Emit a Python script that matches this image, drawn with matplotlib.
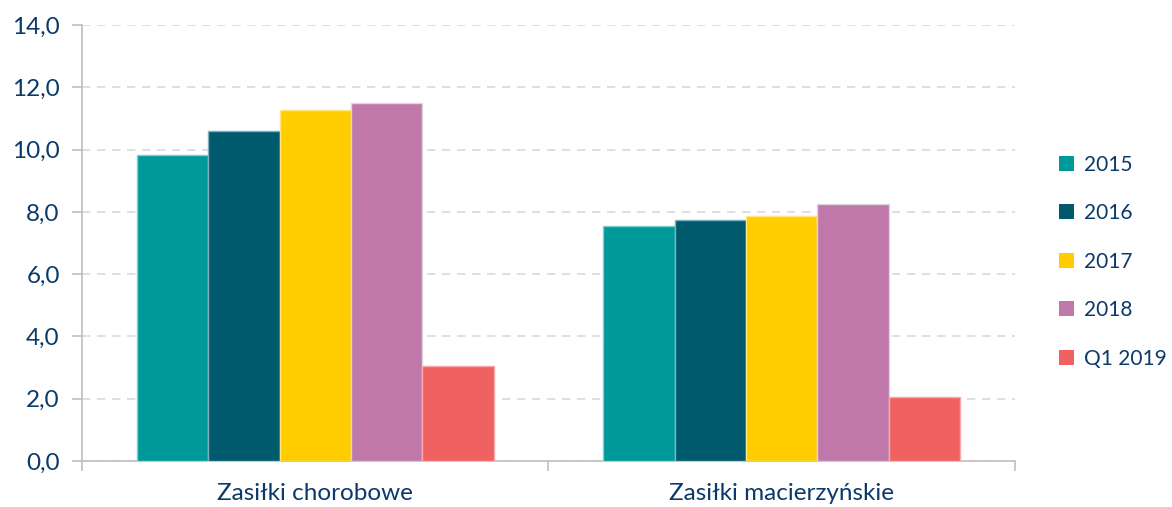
import matplotlib
matplotlib.use("Agg")
import matplotlib.pyplot as plt
import numpy as np
from matplotlib.ticker import FuncFormatter, FixedLocator

plt.rcParams['font.family'] = ['Lato', 'DejaVu Sans']

categories = ["Zasiłki chorobowe", "Zasiłki macierzyńskie"]
series = ["2015", "2016", "2017", "2018", "Q1 2019"]
values = {
    "2015": [9.81, 7.56],
    "2016": [10.61, 7.74],
    "2017": [11.28, 7.86],
    "2018": [11.50, 8.25],
    "Q1 2019": [3.04, 2.06],
}
colors = ["#009999", "#005a6e", "#ffcc00", "#c077aa", "#f06262"]
edges = ["#7fcfcf", "#7fb0bb", "#ffe680", "#d9d9d9", "#f8a8a8"]
yticks = [0, 2, 4, 6, 8, 10, 12, 14]

text_color = "#0b3a6a"

fig = plt.figure(figsize=(11.72, 5.07), dpi=100)
ax = fig.add_axes([0.07, 0.0907, 0.796, 0.86])

x = np.arange(len(categories))
w = 0.153
n = len(series)
for i, s in enumerate(series):
    offs = (i - (n - 1) / 2) * w
    ax.bar(x + offs, values[s], width=w, color=colors[i], edgecolor=edges[i],
           linewidth=1, label=s, zorder=3)

ax.set_xlim(-0.5, 1.5)
ax.set_ylim(0, 14)
ax.set_yticks(yticks)
ax.yaxis.set_major_formatter(FuncFormatter(lambda v, p: f"{v:.1f}".replace(".", ",")))
ax.grid(axis='y', color='#d9d9d9', linestyle=(0, (5, 4)), linewidth=1.2, zorder=0)

ax.xaxis.set_major_locator(FixedLocator([-0.5, 0.5, 1.5]))
ax.xaxis.set_major_formatter(FuncFormatter(lambda v, p: ""))
ax.xaxis.set_minor_locator(FixedLocator(list(x)))
ax.set_xticklabels(categories, minor=True)
ax.tick_params(axis='x', which='minor', length=0, pad=16, labelsize=17.5, labelcolor=text_color)
ax.tick_params(axis='x', which='major', length=7, color='#bfbfbf', width=1.2)
ax.tick_params(axis='y', length=7, color='#bfbfbf', width=1.2, labelsize=17.5,
               labelcolor=text_color, pad=9)

for sp in ['top', 'right']:
    ax.spines[sp].set_visible(False)
for sp in ['left', 'bottom']:
    ax.spines[sp].set_color('#bfbfbf')
    ax.spines[sp].set_linewidth(1.2)

leg = fig.legend(loc='center left', bbox_to_anchor=(0.888, 0.484), frameon=False,
                 fontsize=15, handlelength=0.72, handleheight=0.72,
                 labelspacing=1.37, handletextpad=0.45)
for t in leg.get_texts():
    t.set_color(text_color)
for h in leg.legend_handles:
    h.set_edgecolor('none')

fig.savefig("out.png", dpi=100)
